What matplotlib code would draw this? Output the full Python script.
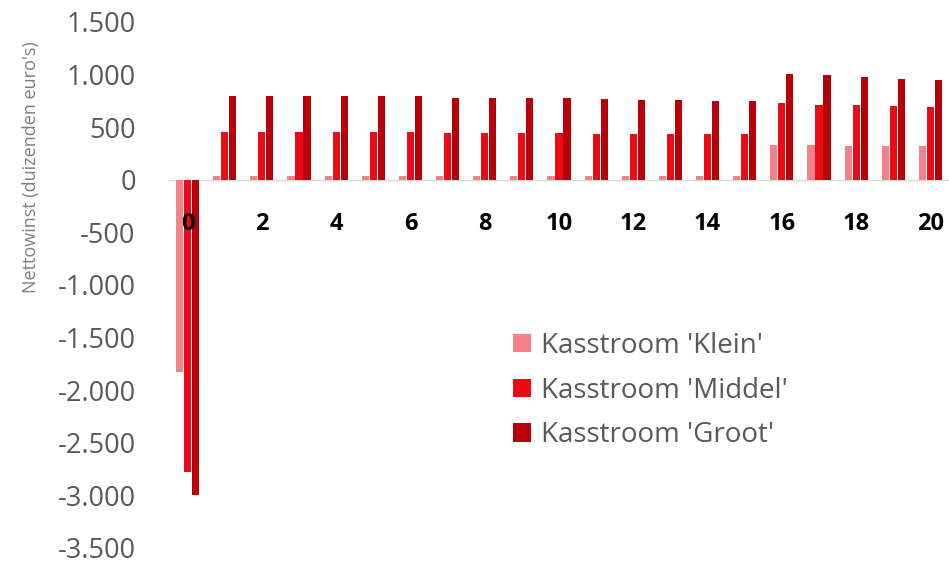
import matplotlib.pyplot as plt
import numpy as np
from matplotlib.ticker import FuncFormatter

years = list(range(21))
klein = [-1830, 35, 35, 35, 35, 35, 35, 35, 35, 35, 35, 35, 35, 35, 35, 35,
         335, 335, 320, 320, 320]
middel = [-2780, 450, 450, 450, 450, 450, 450, 448, 448, 445, 442, 440, 438, 436, 434, 432,
          730, 715, 710, 700, 690]
groot = [-3000, 795, 795, 795, 795, 795, 795, 780, 780, 780, 775, 765, 762, 758, 750, 745,
         1010, 995, 975, 960, 945]

series = [
    ("Kasstroom 'Klein'", klein, "#F4808A"),
    ("Kasstroom 'Middel'", middel, "#EE0A14"),
    ("Kasstroom 'Groot'", groot, "#B8000A"),
]

plt.rcParams["font.family"] = ["Open Sans", "DejaVu Sans"]

fig = plt.figure(figsize=(9.49, 5.68), dpi=100)
ax = fig.add_axes([169 / 949, 20 / 568, 780 / 949, 526 / 568])

# zero line as the x axis; set before ticks, set_position resets them
for side in ["left", "right", "top"]:
    ax.spines[side].set_visible(False)
ax.spines["bottom"].set_position(("data", 0))
ax.spines["bottom"].set_color("#D9D9D9")
ax.spines["bottom"].set_linewidth(1.0)
ax.spines["bottom"].set_zorder(0.5)

x = np.arange(len(years))
width = 0.19
offset = 0.215
for i, (name, vals, color) in enumerate(series):
    ax.bar(x + (i - 1) * offset, vals, width=width, color=color, label=name, zorder=1)

ax.set_xlim(-0.5, 20.5)
ax.set_ylim(-3500, 1500)
ax.set_yticks(np.arange(-3500, 1501, 500))
ax.yaxis.set_major_formatter(
    FuncFormatter(lambda v, _: f"{int(v):,}".replace(",", "."))
)

ax.set_xticks(x[::2])
ax.set_xticklabels([str(y) for y in years[::2]])
for lbl in ax.get_xticklabels():
    lbl.set_fontweight("bold")
    lbl.set_fontsize(17)
    lbl.set_color("black")
ax.xaxis.set_zorder(3)

ax.tick_params(axis="x", length=0, pad=23)
ax.tick_params(axis="y", length=0, pad=24, labelsize=19.5, labelcolor="#595959")

fig.text(31 / 949, 1 - 167 / 568, "Nettowinst (duizenden euro's)", rotation=90,
         ha="center", va="center", fontsize=13, color="#7F7F7F")

leg = ax.legend(loc="upper left", bbox_to_anchor=(499 / 949, 1 - 318 / 568),
                bbox_transform=fig.transFigure, frameon=False, borderpad=0,
                fontsize=20, handlelength=0.65, handleheight=0.65, handletextpad=0.35,
                labelspacing=0.6, labelcolor="#595959")

fig.savefig("out.png", dpi=100)
